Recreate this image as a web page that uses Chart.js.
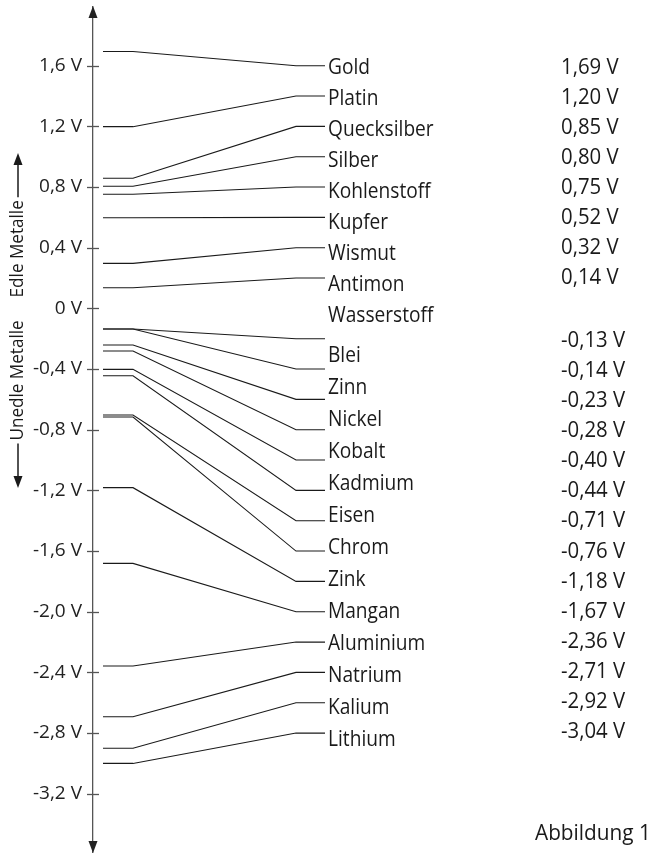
<!DOCTYPE html>
<html><head><meta charset="utf-8">
<script src="https://cdn.jsdelivr.net/npm/chart.js@4/dist/chart.umd.min.js"></script>
<style>html,body{margin:0;padding:0;background:#fff}#wrap{width:652px;height:853px;position:relative}</style>
</head><body><div id="wrap"><canvas id="c"></canvas></div>
<script>
// ---- data ----
const names = ['Gold','Platin','Quecksilber','Silber','Kohlenstoff','Kupfer','Wismut','Antimon','Wasserstoff','Blei','Zinn','Nickel','Kobalt','Kadmium','Eisen','Chrom','Zink','Mangan','Aluminium','Natrium','Kalium','Lithium'];
const printedVolts = [1.69,1.20,0.85,0.80,0.75,0.52,0.32,0.14,-0.13,-0.14,-0.23,-0.28,-0.40,-0.44,-0.71,-0.76,-1.18,-1.67,-2.36,-2.71,-2.92,-3.04];
const drawnVolts = [1.694,1.198,0.858,0.805,0.752,0.598,0.297,0.136,-0.136,-0.136,-0.241,-0.281,-0.402,-0.444,-0.703,-0.716,-1.182,-1.681,-2.358,-2.692,-2.90,-3.0];
const tickValues = [1.6,1.2,0.8,0.4,0,-0.4,-0.8,-1.2,-1.6,-2.0,-2.4,-2.8,-3.2];
const axisTitleUp = 'Edle Metalle';
const axisTitleDown = 'Unedle Metalle';
const caption = 'Abbildung 1';

// ---- layout ----
const SLOT_TOP = 1.6, SLOT_STEP = 0.2;          // label slots on the voltage scale
function slotVolt(i){ const k = i < 8 ? i : i + 1; return SLOT_TOP - SLOT_STEP * k; }
const X_START = 10, X_BEND1 = 40, X_BEND2 = 203, X_END = 232;

const fmt = v => (Math.abs(v) < 1e-9 ? '0' : v.toFixed(1).replace('.', ',')) + ' V';
const fmt2 = v => v.toFixed(2).replace('.', ',') + ' V';

const datasets = drawnVolts.map((v, i) => ({
  label: printedVolts[i].toString(),
  data: [{x:X_START,y:v},{x:X_BEND1,y:v},{x:X_BEND2,y:slotVolt(i)},{x:X_END,y:slotVolt(i)}],
  borderColor: '#1a1a1a', borderWidth: 1.1, pointRadius: 0, showLine: true, tension: 0, fill: false, clip: false
}));

const FONT = '"Open Sans", "Noto Sans", sans-serif';

const decor = {
  id: 'decor',
  afterDraw(chart) {
    const ctx = chart.ctx, ys = chart.scales.y, ca = chart.chartArea;
    const ax = ca.left;
    ctx.save();
    // tick marks crossing the axis
    ctx.strokeStyle = '#555'; ctx.lineWidth = 1.3;
    tickValues.forEach(t => {
      const y = Math.round(ys.getPixelForValue(t)) + 0.5;
      ctx.beginPath(); ctx.moveTo(ax - 6, y); ctx.lineTo(ax + 6, y); ctx.stroke();
    });
    // arrowheads on the axis
    ctx.fillStyle = '#222';
    ctx.beginPath(); ctx.moveTo(ax, ca.top - 1); ctx.lineTo(ax - 4.5, ca.top + 11); ctx.lineTo(ax + 4.5, ca.top + 11); ctx.closePath(); ctx.fill();
    ctx.beginPath(); ctx.moveTo(ax, ca.bottom + 1); ctx.lineTo(ax - 4.5, ca.bottom - 11); ctx.lineTo(ax + 4.5, ca.bottom - 11); ctx.closePath(); ctx.fill();

    // element names
    ctx.fillStyle = '#1a1a1a';
    ctx.font = '22px ' + FONT;
    ctx.textAlign = 'left'; ctx.textBaseline = 'alphabetic';
    const xs = chart.scales.x;
    const lx = xs.getPixelForValue(X_END) + 3;
    names.forEach((n, i) => {
      const by = i < 9 ? 74.3 + 30.9 * i : 361.7 + 32.03 * (i - 9);
      ctx.save(); ctx.translate(lx, by); ctx.scale(0.87, 1); ctx.fillText(n, 0, 0); ctx.restore();
    });
    // printed potentials
    ctx.font = '21px ' + FONT;
    let pi = 0, ni = 0;
    printedVolts.forEach(v => {
      const by = v > 0 ? 74.3 + 30.0 * (pi++) : 346.7 + 30.12 * (ni++);
      ctx.save(); ctx.translate(561, by); ctx.scale(0.97, 1); ctx.fillText(fmt2(v), 0, 0); ctx.restore();
    });
    // caption
    ctx.font = '21px ' + FONT;
    ctx.save(); ctx.translate(535, 840); ctx.scale(0.99, 1); ctx.fillText(caption, 0, 0); ctx.restore();

    // rotated axis title with arrows
    const tx = 18, yMid = ys.getPixelForValue(0);
    ctx.font = '18px ' + FONT;
    ctx.save();
    ctx.translate(tx, 0); ctx.rotate(-Math.PI / 2);
    const sc = 0.95;
    const wUp = ctx.measureText(axisTitleUp).width * sc;
    const wDn = ctx.measureText(axisTitleDown).width * sc;
    const upStart = yMid - 11, dnEnd = yMid + 12;
    ctx.textBaseline = 'middle';
    ctx.save(); ctx.translate(-upStart, 0); ctx.scale(sc,1); ctx.fillText(axisTitleUp, 0, 0); ctx.restore();
    ctx.save(); ctx.translate(-(dnEnd + wDn), 0); ctx.scale(sc,1); ctx.fillText(axisTitleDown, 0, 0); ctx.restore();
    ctx.restore();
    // arrows for the title
    ctx.strokeStyle = '#1a1a1a'; ctx.fillStyle = '#1a1a1a'; ctx.lineWidth = 1.5;
    const upTop = upStart - wUp - 3, upTip = 153;
    ctx.beginPath(); ctx.moveTo(tx, upTop); ctx.lineTo(tx, upTip + 8); ctx.stroke();
    ctx.beginPath(); ctx.moveTo(tx, upTip); ctx.lineTo(tx - 4.5, upTip + 12); ctx.lineTo(tx + 4.5, upTip + 12); ctx.closePath(); ctx.fill();
    const dnTop = dnEnd + wDn + 3, dnTip = 488;
    ctx.beginPath(); ctx.moveTo(tx, dnTop); ctx.lineTo(tx, dnTip - 8); ctx.stroke();
    ctx.beginPath(); ctx.moveTo(tx, dnTip); ctx.lineTo(tx - 4.5, dnTip - 12); ctx.lineTo(tx + 4.5, dnTip - 12); ctx.closePath(); ctx.fill();
    ctx.restore();
  }
};

new Chart(document.getElementById('c'), {
  type: 'scatter',
  data: { datasets },
  options: {
    responsive: true, maintainAspectRatio: false, animation: false,
    layout: { padding: { top: 7, bottom: 1, left: 0, right: 327 } },
    plugins: { legend: { display: false }, tooltip: { enabled: false }, title: { display: false } },
    elements: { line: { borderCapStyle: 'butt' } },
    scales: {
      x: { type: 'linear', display: false, min: 0, max: X_END },
      y: {
        type: 'linear', position: 'left', min: -3.584, max: 1.987,
        grid: { display: false, tickLength: 0 },
        border: { display: true, color: '#555', width: 1.3 },
        ticks: { padding: 11, color: '#222', font: { family: FONT, size: 19 }, callback: v => fmt(v) },
        afterBuildTicks: s => { s.ticks = tickValues.map(v => ({ value: v })); },
        afterFit: s => { s.width = 93; s.paddingTop = 0; s.paddingBottom = 0; }
      }
    }
  },
  plugins: [decor]
});
</script></body></html>
